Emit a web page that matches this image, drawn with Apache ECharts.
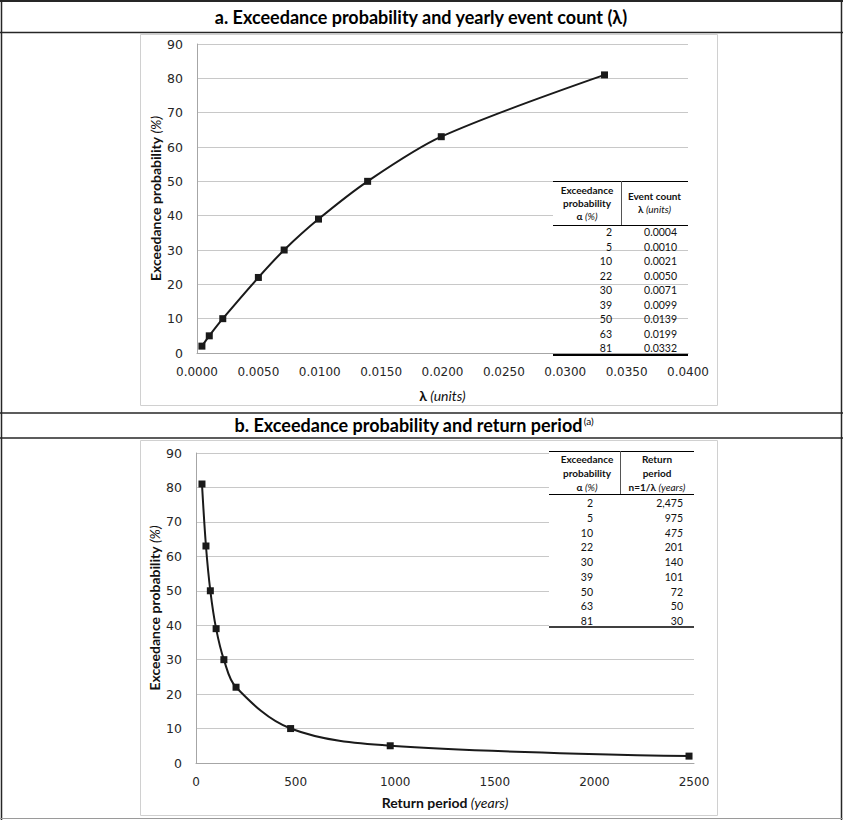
<!DOCTYPE html>
<html>
<head>
<meta charset="utf-8">
<script src="https://cdn.jsdelivr.net/npm/echarts/dist/echarts.min.js"></script>
<style>
html,body{margin:0;padding:0;background:#fff;}
#c{width:843px;height:820px;}
</style>
</head>
<body>
<div id="c"></div>
<script>
// ---- data ----
const probs = [2, 5, 10, 22, 30, 39, 50, 63, 81];
const lambdas = [0.0004, 0.0010, 0.0021, 0.0050, 0.0071, 0.0099, 0.0139, 0.0199, 0.0332];
const periods = [2475, 975, 475, 201, 140, 101, 72, 50, 30];
const periodItalic = [false, false, true, false, false, false, false, false, false];
const titleA = 'a. Exceedance probability and yearly event count (λ)';
const titleB = 'b. Exceedance probability and return period';
const yTicks = { min: 0, max: 90, interval: 10 };
const xTicksA = { min: 0, max: 0.04, interval: 0.005, decimals: 4 };
const xTicksB = { min: 0, max: 2500, interval: 500 };

// ---- styles ----
const CAL = 'Lato';
const TICKF = 'DejaVu Sans';
const gridCol = '#c8c8c8';
const axisCol = '#a6a6a6';
const ink = '#1a1a1a';
const tickCol = '#262626';

const chart = echarts.init(document.getElementById('c'), null, { renderer: 'svg', width: 843, height: 820 });

const richAxis = {
  b: { fontFamily: CAL, fontWeight: 'bold', fontSize: 14, color: '#111' },
  i: { fontFamily: CAL, fontStyle: 'italic', fontSize: 14, color: '#111' }
};

function yAxis(gi) {
  return {
    type: 'value', gridIndex: gi, min: yTicks.min, max: yTicks.max, interval: yTicks.interval,
    name: '{b|Exceedance probability} {i|(%)}', nameLocation: 'middle', nameGap: 35, nameRotate: 90,
    nameMoveOverlap: false,
    nameTextStyle: { rich: richAxis },
    axisLine: { show: true, lineStyle: { color: axisCol, width: 1 } },
    axisTick: { show: false },
    axisLabel: { margin: 14, fontFamily: TICKF, fontSize: 12.5, color: tickCol },
    splitLine: { show: true, lineStyle: { color: gridCol, width: 1 } }
  };
}

const option = {
  animation: false,
  backgroundColor: '#fff',
  grid: [
    { left: 197, top: 44, width: 491, height: 309 },
    { left: 196, top: 453, width: 498, height: 310 }
  ],
  xAxis: [
    {
      type: 'value', gridIndex: 0, min: xTicksA.min, max: xTicksA.max, interval: xTicksA.interval,
      name: '{b|λ} {i|(units)}', nameLocation: 'middle', nameGap: 35, nameMoveOverlap: false,
      nameTextStyle: { rich: richAxis },
      axisLine: { show: true, lineStyle: { color: axisCol } },
      axisTick: { show: false },
      axisLabel: { margin: 13, fontFamily: TICKF, fontSize: 12, color: tickCol, formatter: v => v.toFixed(xTicksA.decimals) },
      splitLine: { show: false }
    },
    {
      type: 'value', gridIndex: 1, min: xTicksB.min, max: xTicksB.max, interval: xTicksB.interval,
      name: '{b|Return period} {i|(years)}', nameLocation: 'middle', nameGap: 32, nameMoveOverlap: false,
      nameTextStyle: { rich: richAxis },
      axisLine: { show: true, lineStyle: { color: axisCol } },
      axisTick: { show: false },
      axisLabel: { margin: 13, fontFamily: TICKF, fontSize: 12, color: tickCol, formatter: v => String(v) },
      splitLine: { show: false }
    }
  ],
  yAxis: [yAxis(0), yAxis(1)],
  series: [
    {
      type: 'line', xAxisIndex: 0, yAxisIndex: 0,
      data: probs.map((p, i) => [lambdas[i], p]),
      smooth: 0.3, symbol: 'rect', symbolSize: 7,
      lineStyle: { color: ink, width: 2 }, itemStyle: { color: ink }, z: 3
    },
    {
      type: 'line', xAxisIndex: 1, yAxisIndex: 1,
      data: probs.map((p, i) => [periods[i], p]),
      smooth: 0.35, symbol: 'rect', symbolSize: 7,
      lineStyle: { color: ink, width: 2 }, itemStyle: { color: ink }, z: 3
    }
  ],
  graphic: []
};

// ---- frame, titles, tables (graphic) ----
const G = option.graphic;
function line(x1, y1, x2, y2, color, w) {
  G.push({ type: 'line', z: 50, silent: true, shape: { x1, y1, x2, y2 }, style: { stroke: color, lineWidth: w } });
}
function rect(x, y, w, h, fill, stroke) {
  G.push({ type: 'rect', z: 40, silent: true, shape: { x, y, width: w, height: h }, style: { fill: fill, stroke: stroke || null, lineWidth: 1 } });
}
function text(x, y, str, opts) {
  opts = opts || {};
  G.push({
    type: 'text', z: 60, silent: true, x, y,
    style: Object.assign({
      text: str, fontFamily: CAL, fontSize: opts.size || 10, fontWeight: opts.bold ? 'bold' : 'normal',
      fontStyle: opts.italic ? 'italic' : 'normal', fill: opts.color || '#111',
      textAlign: opts.align || 'center', textVerticalAlign: 'middle'
    }, opts.rich ? { rich: opts.rich } : {})
  });
}

// chart boxes
rect(140.5, 34.5, 577, 371, 'rgba(0,0,0,0)', '#d0d0d0');
rect(140.5, 440.5, 577, 375, 'rgba(0,0,0,0)', '#d0d0d0');

// outer frame
const frameCol = '#262626';
line(0, 1, 843, 1, frameCol, 2);
line(1.5, 0, 1.5, 820, frameCol, 1.5);
line(841.5, 0, 841.5, 820, frameCol, 1.5);
line(0, 32.5, 843, 32.5, frameCol, 1.5);
line(0, 413, 843, 413, frameCol, 1.5);
line(0, 438, 843, 438, frameCol, 1.5);
line(0, 818.5, 843, 818.5, '#9a9a9a', 1);

// titles
text(421, 17, titleA, { size: 18, bold: true, color: '#000' });
text(414, 425, '{t|' + titleB + '}{s|(a)}', {
  rich: {
    t: { fontFamily: CAL, fontSize: 18, fontWeight: 'bold', fill: '#000', color: '#000' },
    s: { fontFamily: CAL, fontSize: 10, fill: '#000', color: '#000', verticalAlign: 'top', padding: [0, 0, 8, 1] }
  }
});

const HS = 10;
const VS = 10.5;
const hdrRich = {
  b: { fontFamily: CAL, fontSize: HS, fontWeight: 'bold', fill: '#111', color: '#111' },
  i: { fontFamily: CAL, fontSize: HS, fontStyle: 'italic', fill: '#111', color: '#111' }
};

// table a
(function () {
  const L = 553, R = 688, T = 181, div = 621, HB = 225, BOT = 355;
  rect(L, T, R - L, HB - T, '#fff');
  line(L, T + 0.5, R, T + 0.5, '#000', 1);
  line(div + 0.5, T, div + 0.5, HB, '#555', 1);
  line(L, HB + 0.5, R, HB + 0.5, '#000', 1);
  line(L, BOT, R, BOT, '#000', 2);
  const c1 = (L + div) / 2, c2 = (div + R) / 2;
  text(c1, 190, 'Exceedance', { bold: true, size: HS });
  text(c1, 203, 'probability', { bold: true, size: HS });
  text(c1, 216, '{b|α} {i|(%)}', { rich: hdrRich, size: HS });
  text(c2, 196, 'Event count', { bold: true, size: HS });
  text(c2, 209, '{b|λ} {i|(units)}', { rich: hdrRich, size: HS });
  const r0 = 232, dr = 14.5;
  probs.forEach((p, i) => {
    const y = r0 + i * dr;
    text(612, y, String(p), { align: 'right', size: VS });
    text(677, y, lambdas[i].toFixed(4), { align: 'right', size: VS });
  });
})();

// table b
(function () {
  const L = 549, R = 694, T = 451, div = 620, HB = 494, BOT = 627;
  rect(L, T, R - L, BOT - T, '#fff');
  line(L, T + 0.5, R, T + 0.5, '#000', 1);
  line(div + 0.5, T, div + 0.5, HB, '#555', 1);
  line(L, HB + 0.5, R, HB + 0.5, '#000', 1);
  line(L, BOT, R, BOT, '#000', 1.5);
  const c1 = 587, c2 = 657;
  text(c1, 459, 'Exceedance', { bold: true, size: HS });
  text(c1, 473, 'probability', { bold: true, size: HS });
  text(c1, 487, '{b|α} {i|(%)}', { rich: hdrRich, size: HS });
  text(c2, 459, 'Return', { bold: true, size: HS });
  text(c2, 473, 'period', { bold: true, size: HS });
  text(c2, 487, '{b|n=1/λ} {i|(years)}', { rich: hdrRich, size: HS });
  const r0 = 503, dr = 14.75;
  probs.forEach((p, i) => {
    const y = r0 + i * dr;
    text(593, y, String(p), { align: 'right', size: VS });
    text(683, y, periods[i].toLocaleString('en-US'), { align: 'right', size: VS, italic: periodItalic[i] });
  });
})();

chart.setOption(option);
</script>
</body>
</html>
